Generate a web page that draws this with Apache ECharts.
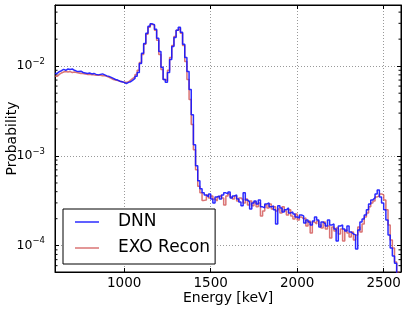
<!DOCTYPE html>
<html><head><meta charset="utf-8">
<script src="https://cdn.jsdelivr.net/npm/echarts@6/dist/echarts.min.js"></script>
<style>html,body{margin:0;padding:0;background:#fff}#c{width:407px;height:312px}</style>
</head><body><div id="c"></div>
<script>
const xMin = 600, xMax = 2600;
const yMin = 5.1e-5, yMax = 0.048;
const binStart = 600, binWidth = 12.5;
const seriesNames = ['DNN', 'EXO Recon'];
const dnn = [
0.0083,0.0087,0.0089,0.0092,0.0090,0.0093,0.0092,0.0093,0.0090,0.0088,
0.0087,0.0088,0.0085,0.0084,0.0083,0.0084,0.0082,0.0083,0.0081,0.0080,
0.0081,0.0082,0.0080,0.0078,0.0077,0.0075,0.0073,0.0071,0.0070,0.0068,
0.0067,0.0066,0.0064,0.0066,0.0067,0.0070,0.0073,0.0077,0.0085,0.0107,
0.0139,0.0179,0.0232,0.0278,0.0296,0.0289,0.0257,0.0204,0.0146,0.0097,
0.0071,0.0066,0.0085,0.0119,0.0166,0.0209,0.0251,0.0271,0.0238,0.0175,
0.0125,0.0087,0.0055,0.00288,0.00133,0.00078,0.00053,0.00043,0.00039,
0.000368,0.000350,0.000378,0.000332,0.000300,0.000350,0.000359,0.000332,0.000368,0.000388,0.000378,
0.000398,0.000341,0.000359,0.000368,0.000332,0.000308,0.000278,0.000388,0.000324,0.000308,
0.000257,0.000300,0.000316,0.000292,0.000324,0.000271,0.000264,0.000292,0.000300,0.000271,
0.000278,0.000251,0.000175,0.000278,0.000264,0.000238,0.000251,0.000264,0.000232,0.000238,
0.000226,0.000209,0.000204,0.000220,0.000215,0.000179,0.000194,0.000184,0.000170,0.000189,
0.000209,0.000194,0.000162,0.000184,0.000175,0.000166,0.000194,0.000170,0.000175,0.000154,
0.000113,0.000166,0.000170,0.000154,0.000146,0.000166,0.000142,0.000135,0.000132,0.0000918,
0.000150,0.000184,0.000199,0.000220,0.000251,0.000292,0.000324,0.000341,0.000378,0.000419,
0.000350,0.000300,0.000251,0.000194,0.000132,0.0000942,0.0000767,0.0000640,0.0000470,0.0000320
];
const exo = [
0.0077,0.0081,0.0084,0.0086,0.0087,0.0086,0.0087,0.0085,0.0086,0.0085,
0.0084,0.0083,0.0083,0.0082,0.0081,0.0081,0.0080,0.0080,0.0079,0.0079,
0.0079,0.0078,0.0078,0.0077,0.0075,0.0073,0.0071,0.0070,0.0069,0.0068,
0.0067,0.0066,0.0066,0.0067,0.0070,0.0073,0.0076,0.0081,0.0090,0.0110,
0.0135,0.0175,0.0226,0.0271,0.0292,0.0285,0.0251,0.0194,0.0135,0.0092,
0.0071,0.0069,0.0090,0.0125,0.0170,0.0214,0.0251,0.0264,0.0232,0.0170,
0.0113,0.0071,0.00425,0.00224,0.00117,0.00070,0.00046,0.00039,0.00032,
0.000324,0.000368,0.000341,0.000359,0.000332,0.000316,0.000350,0.000368,0.000341,0.000285,0.000359,
0.000378,0.000350,0.000332,0.000359,0.000316,0.000341,0.000324,0.000300,0.000332,0.000285,
0.000316,0.000278,0.000308,0.000271,0.000300,0.000215,0.000244,0.000285,0.000264,0.000292,
0.000257,0.000271,0.000244,0.000257,0.000232,0.000271,0.000244,0.000220,0.000251,0.000215,
0.000199,0.000226,0.000194,0.000209,0.000199,0.000204,0.000166,0.000189,0.000139,0.000184,
0.000175,0.000189,0.000170,0.000158,0.000184,0.000154,0.000166,0.000122,0.000162,0.000146,
0.000158,0.000135,0.000154,0.000113,0.000150,0.000139,0.000125,0.000142,0.000116,0.000132,
0.000162,0.000142,0.000175,0.000209,0.000232,0.000271,0.000300,0.000316,0.000350,0.000359,
0.000378,0.000368,0.000324,0.000251,0.000170,0.000116,0.0000942,0.0000657,0.0000508,0.0000364
];
const yMinorTicks = [6e-5,7e-5,8e-5,9e-5,
  2e-4,3e-4,4e-4,5e-4,6e-4,7e-4,8e-4,9e-4,
  2e-3,3e-3,4e-3,5e-3,6e-3,7e-3,8e-3,9e-3,
  2e-2,3e-2,4e-2];

const blue = 'rgba(20,20,255,0.9)';
const red = 'rgba(205,70,70,0.75)';

function toSteps(vals) {
  const d = vals.map((v, i) => [binStart + i * binWidth, v]);
  d.push([binStart + vals.length * binWidth, vals[vals.length - 1]]);
  return d;
}
const supMinus = s => String(s).replace('-', '\u2212');

const chart = echarts.init(document.getElementById('c'), null, {renderer: 'canvas'});
const grid = {left: 55, right: 6, top: 5, bottom: 40, show: true, borderColor: '#000', borderWidth: 1,
  backgroundColor: 'transparent', containLabel: false, outerBoundsMode: 'none'};
const split = {show: true, lineStyle: {color: '#999', type: [1, 2], width: 1}};
chart.setOption({
  animation: false,
  textStyle: {fontFamily: 'DejaVu Sans', color: '#000'},
  grid: grid,
  xAxis: [{
    type: 'value', min: xMin, max: xMax, splitNumber: 5,
    name: 'Energy [keV]', nameLocation: 'middle', nameGap: 19, nameMoveOverlap: false,
    nameTextStyle: {fontSize: 14, color: '#000'},
    axisLine: {show: true, lineStyle: {color: '#000'}},
    axisTick: {show: true, inside: true, length: 4, lineStyle: {color: '#000'}},
    axisLabel: {fontSize: 13.5, color: '#000', margin: 4, showMinLabel: false, showMaxLabel: false,
      formatter: v => String(v)},
    splitLine: split
  }, {
    type: 'value', min: xMin, max: xMax, splitNumber: 5, position: 'top',
    axisLine: {show: true, lineStyle: {color: '#000'}},
    axisTick: {show: true, inside: true, length: 4, lineStyle: {color: '#000'}},
    axisLabel: {show: false}, splitLine: {show: false}
  }],
  yAxis: [{
    type: 'log', logBase: 10, min: yMin, max: yMax,
    name: 'Probability', nameLocation: 'middle', nameGap: 36, nameMoveOverlap: false,
    nameTextStyle: {fontSize: 14, color: '#000'},
    axisLine: {show: true, lineStyle: {color: '#000'}},
    axisTick: {show: true, inside: true, length: 4, lineStyle: {color: '#000'}},
    axisLabel: {
      color: '#000', margin: 10, showMinLabel: false, showMaxLabel: false,
      formatter: v => '{b|10}{e|' + supMinus(Math.round(Math.log10(v))) + '}',
      rich: {b: {fontSize: 12.5, color: '#000'}, e: {fontSize: 8.5, color: '#000', padding: [0, 0, 9, 0]}}
    },
    splitLine: split
  }, {
    type: 'log', logBase: 10, min: yMin, max: yMax, position: 'right',
    axisLine: {show: true, lineStyle: {color: '#000'}},
    axisTick: {show: true, inside: true, length: 4, lineStyle: {color: '#000'}},
    axisLabel: {show: false}, splitLine: {show: false}
  }],
  legend: {
    data: [
      {name: seriesNames[0], icon: 'rect', itemStyle: {color: blue}},
      {name: seriesNames[1], icon: 'rect', itemStyle: {color: red}}
    ],
    orient: 'vertical', left: 63, top: 209,
    itemWidth: 24, itemHeight: 1.5, itemGap: 6,
    padding: [3, 5, 6, 12],
    borderColor: '#000', borderWidth: 1, borderRadius: 0, backgroundColor: '#fff',
    textStyle: {fontSize: 17, color: '#000', padding: [0, 0, 0, 14], lineHeight: 20}
  },
  series: [{
    name: seriesNames[1], type: 'line', step: 'end', symbol: 'none',
    data: toSteps(exo), color: red,
    lineStyle: {color: red, width: 1.5}, z: 2
  }, {
    name: seriesNames[0], type: 'line', step: 'end', symbol: 'none',
    data: toSteps(dnn), color: blue,
    lineStyle: {color: blue, width: 1.5}, z: 3
  }, {
    name: 'minorTicks', type: 'custom', silent: true, clip: false,
    data: yMinorTicks.map(v => [xMin, v]),
    renderItem: (params, api) => {
      const v = api.value(1);
      const p1 = api.coord([xMin, v]);
      const p2 = api.coord([xMax, v]);
      const st = {stroke: '#000', lineWidth: 1};
      return {type: 'group', children: [
        {type: 'line', shape: {x1: p1[0], y1: p1[1], x2: p1[0] + 2.5, y2: p1[1]}, style: st},
        {type: 'line', shape: {x1: p2[0] - 2.5, y1: p2[1], x2: p2[0], y2: p2[1]}, style: st}
      ]};
    }
  }]
});
</script></body></html>
